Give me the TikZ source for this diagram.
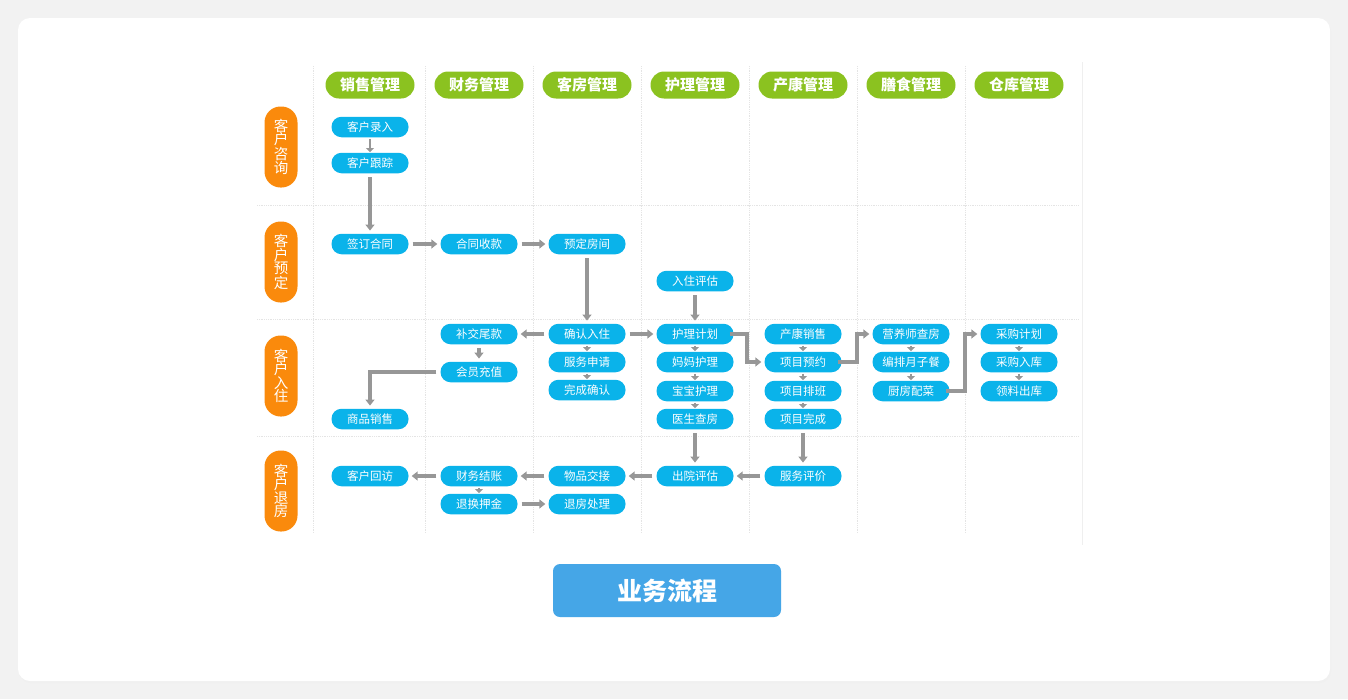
\documentclass[tikz,border=0pt]{standalone}
\usepackage{fontspec}
\newfontfamily\cjk{Noto Sans CJK SC}
\usetikzlibrary{arrows.meta}
\definecolor{bgout}{HTML}{F2F2F2}
\definecolor{nodeblue}{HTML}{0AB3EA}
\definecolor{hdrgreen}{HTML}{8BC220}
\definecolor{laborange}{HTML}{FA8A0C}
\definecolor{arrgray}{HTML}{979797}
\definecolor{gridgray}{HTML}{E4E4E4}
\definecolor{btnblue}{HTML}{45A6E7}
\tikzset{
  box/.style={rectangle, rounded corners=10pt, fill=nodeblue, minimum width=77pt, minimum height=20.5pt, inner sep=0pt, text=white, font=\cjk\fontsize{11.5}{12}\selectfont},
  hdr/.style={rectangle, rounded corners=13.5pt, fill=hdrgreen, minimum width=89pt, minimum height=27pt, inner sep=0pt, text=white, font=\cjk\bfseries\fontsize{15}{16}\selectfont},
  lab/.style={rectangle, rounded corners=16pt, fill=laborange, minimum width=33pt, minimum height=81pt, inner sep=0pt, text=white, align=center, font=\cjk\fontsize{14.5}{13.4}\selectfont},
  flow/.style={draw=arrgray, line width=3.6pt, -{Triangle[width=9pt,length=6pt]}, shorten >=3pt, shorten <=4pt},
  small/.style={draw=arrgray, line width=2.8pt, -{Triangle[width=8pt,length=4pt]}, shorten >=0.5pt, shorten <=1.5pt},
  grid/.style={draw=gridgray, line width=0.8pt, densely dotted}
}
\begin{document}
\begin{tikzpicture}[x=1pt,y=-1pt]
\useasboundingbox (0,0) rectangle (1348,699);
\fill[bgout] (0,0) rectangle (1348,699);
\fill[black!6, rounded corners=12pt] (19,20) rectangle (1331,683);
\fill[white, rounded corners=12pt] (18,18) rectangle (1330,681);
% grid
\foreach \x in {313,425,533,641,749,857,965} \draw[grid] (\x,66) -- (\x,533);
\foreach \y in {205,319,436} \draw[grid] (257,\y) -- (1078,\y);
\draw[gridgray!60, line width=0.5pt] (1082,62) -- (1082,545);
% headers
\node[hdr] (h1) at (370,85) {销售管理};
\node[hdr] (h2) at (479,85) {财务管理};
\node[hdr] (h3) at (587,85) {客房管理};
\node[hdr] (h4) at (695,85) {护理管理};
\node[hdr] (h5) at (803,85) {产康管理};
\node[hdr] (h6) at (911,85) {膳食管理};
\node[hdr] (h7) at (1019,85) {仓库管理};
% row labels
\node[lab] (r1) at (281,147) {客\\户\\咨\\询};
\node[lab] (r2) at (281,262) {客\\户\\预\\定};
\node[lab] (r3) at (281,376) {客\\户\\入\\住};
\node[lab] (r4) at (281,491) {客\\户\\退\\房};
% nodes
\node[box] (a1) at (370,127) {客户录入};
\node[box] (a2) at (370,163) {客户跟踪};
\node[box] (b1) at (370,244) {签订合同};
\node[box] (b2) at (479,244) {合同收款};
\node[box] (b3) at (587,244) {预定房间};
\node[box] (b4) at (695,281) {入住评估};
\node[box] (c1) at (587,334) {确认入住};
\node[box] (c2) at (587,362) {服务申请};
\node[box] (c3) at (587,390) {完成确认};
\node[box] (c4) at (479,334) {补交尾款};
\node[box] (c5) at (479,372) {会员充值};
\node[box] (c6) at (370,419) {商品销售};
\node[box] (n1) at (695,334) {护理计划};
\node[box] (n2) at (695,362) {妈妈护理};
\node[box] (n3) at (695,391) {宝宝护理};
\node[box] (n4) at (695,419) {医生查房};
\node[box] (p1) at (803,334) {产康销售};
\node[box] (p2) at (803,362) {项目预约};
\node[box] (p3) at (803,391) {项目排班};
\node[box] (p4) at (803,419) {项目完成};
\node[box] (s1) at (911,334) {营养师查房};
\node[box] (s2) at (911,362) {编排月子餐};
\node[box] (s3) at (911,391) {厨房配菜};
\node[box] (w1) at (1019,334) {采购计划};
\node[box] (w2) at (1019,362) {采购入库};
\node[box] (w3) at (1019,391) {领料出库};
\node[box] (d1) at (370,476) {客户回访};
\node[box] (d2) at (479,476) {财务结账};
\node[box] (d3) at (587,476) {物品交接};
\node[box] (d4) at (695,476) {出院评估};
\node[box] (d5) at (803,476) {服务评价};
\node[box] (d6) at (479,504) {退换押金};
\node[box] (d7) at (587,504) {退房处理};
% small stacked arrows
\draw[small] (a1) -- (a2);
\draw[small] (c1) -- (c2);
\draw[small] (c2) -- (c3);
\draw[small] (n1) -- (n2);
\draw[small] (n2) -- (n3);
\draw[small] (n3) -- (n4);
\draw[small] (p1) -- (p2);
\draw[small] (p2) -- (p3);
\draw[small] (p3) -- (p4);
\draw[small] (s1) -- (s2);
\draw[small] (s2) -- (s3);
\draw[small] (w1) -- (w2);
\draw[small] (w2) -- (w3);
\draw[small] (d2) -- (d6);
% flow arrows
\draw[flow] (a2) -- (b1);
\draw[flow] (b1) -- (b2);
\draw[flow] (b2) -- (b3);
\draw[flow] (b3) -- (c1);
\draw[flow] (c1) -- (c4);
\draw[flow] (c4) -- (c5);
\draw[flow] (c5.west) -- ++(-4,0) -| (c6.north);
\draw[flow] (c1) -- (n1);
\draw[flow] (b4) -- (n1);
\draw[flow] (n1.east) -- ++(-3,0) -- (747,334) |- (p2.west);
\draw[flow] (p2.east) -- ++(-3,0) -- (857,362) |- (s1.west);
\draw[flow] (s3.east) -- ++(-3,0) -- (965,391) |- (w1.west);
\draw[flow] (n4) -- (d4);
\draw[flow] (p4) -- (d5);
\draw[flow] (d5) -- (d4);
\draw[flow] (d4) -- (d3);
\draw[flow] (d3) -- (d2);
\draw[flow] (d2) -- (d1);
\draw[flow] (d6) -- (d7);
% button
\node[rectangle, rounded corners=7pt, fill=btnblue, minimum width=228pt, minimum height=53pt, inner sep=0pt, text=white, font=\cjk\bfseries\fontsize{25}{26}\selectfont] (btn) at (667,590.5) {业务流程};
\end{tikzpicture}
\end{document}
